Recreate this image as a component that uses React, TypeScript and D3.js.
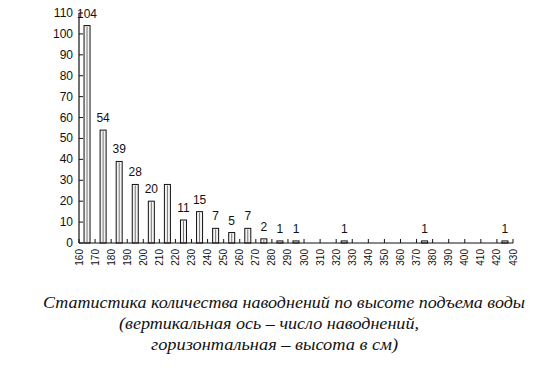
import React from "react";
import * as d3 from "d3";

const binStarts = [160,170,180,190,200,210,220,230,240,250,260,270,280,290,300,310,320,330,340,350,360,370,380,390,400,410,420];
const counts =    [104, 54, 39, 28, 20, 28, 11, 15,  7,  5,  7,  2,  1,  1,  0,  0,  1,  0,  0,  0,  0,  1,  0,  0,  0,  0,  1];
const countLabels = ["104","54","39","28","20","","11","15","7","5","7","2","1","1","","","1","","","","","1","","","","","1"];
const xTicks = d3.range(160, 431, 10);
const yTicks = d3.range(0, 111, 10);
const captionLines = [
  "Статистика количества наводнений по высоте подъема воды",
  "(вертикальная ось – число наводнений,",
  "горизонтальная – высота в см)",
];

const W = 550, H = 387;
const x = d3.scaleLinear().domain([160, 430]).range([79, 513]);
const y = d3.scaleLinear().domain([0, 110]).range([243, 13]);
const narrow = "'Liberation Sans Narrow', 'Liberation Sans', Arial, sans-serif";
const capX = [[43, 482], [119, 300], [151, 247]];
const capY = [308, 329, 350];

export default function App() {
  const bw = 6;
  return (
    <svg width={W} height={H} style={{ position: "absolute", left: 0, top: 0, background: "#fff" }}>
      <rect width={W} height={H} fill="#fff" />
      {/* bars */}
      {binStarts.map((b, i) => {
        const v = counts[i];
        if (v <= 0) return null;
        const cx = (x(b) + x(b + 10)) / 2;
        const top = y(v);
        return (
          <g key={b}>
            <rect x={cx - bw / 2} y={top} width={bw} height={y(0) - top} fill="#f4f4f4" stroke="#111" strokeWidth={1} />
            <line x1={cx} x2={cx} y1={top + 1} y2={y(0)} stroke="#777" strokeWidth={1} />
            {countLabels[i] && (
              <text x={cx} y={top - 8} textAnchor="middle" fontFamily={narrow} fontSize={12} fill="#111">{countLabels[i]}</text>
            )}
          </g>
        );
      })}
      {/* y axis */}
      <line x1={79} x2={79} y1={y(110)} y2={y(0)} stroke="#111" strokeWidth={1.2} />
      {yTicks.map(t => (
        <g key={t}>
          <line x1={79} x2={83} y1={y(t)} y2={y(t)} stroke="#111" strokeWidth={1} />
          <text x={73} y={y(t) + 4} textAnchor="end" fontFamily={narrow} fontSize={12} fill="#111">{t}</text>
        </g>
      ))}
      {/* x axis */}
      <line x1={79} x2={513} y1={y(0)} y2={y(0)} stroke="#111" strokeWidth={1.2} />
      {xTicks.map(t => (
        <g key={t}>
          <line x1={x(t)} x2={x(t)} y1={y(0)} y2={y(0) - 4} stroke="#111" strokeWidth={1} />
          <text transform={`translate(${x(t) + 3.5},249) rotate(-90)`} textAnchor="end" fontFamily={narrow} fontSize={10} fill="#111">{t}</text>
        </g>
      ))}
      {/* caption */}
      {captionLines.map((s, i) => (
        <text key={i} x={capX[i][0]} y={capY[i]} textLength={capX[i][1]} lengthAdjust="spacingAndGlyphs"
          fontFamily="'Liberation Serif', 'DejaVu Serif', serif" fontStyle="italic" fontSize={16} fill="#111">{s}</text>
      ))}
    </svg>
  );
}
